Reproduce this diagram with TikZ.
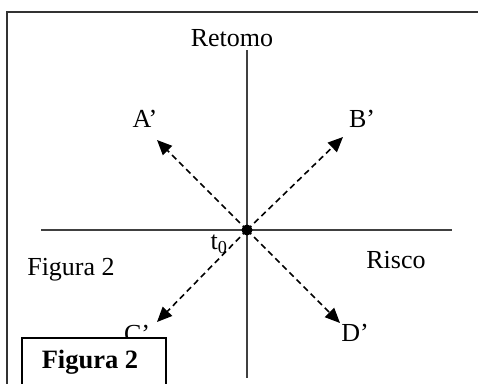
\documentclass[tikz,border=0pt]{standalone}
\usepackage{fontspec}
\setmainfont{Liberation Serif}
\usetikzlibrary{arrows.meta}
\begin{document}
\begin{tikzpicture}[x=1pt,y=-1pt,
  axisline/.style={draw=black!75,line width=1.4pt},
  diag/.style={draw=black,line width=1.6pt,dash pattern=on 6pt off 4pt,-{Triangle[length=15pt,width=13pt]}},
  lbl/.style={font=\fontsize{26}{30}\selectfont,inner sep=0pt}]
\useasboundingbox (0,0) rectangle (478,383);
\clip (0,0) rectangle (478,383);
\fill[white] (0,0) rectangle (478,383);
% outer frame
\draw[draw=black!80,line width=1.5pt] (7,400) -- (7,12) -- (490,12);
% axes
\coordinate (O) at (247,230);
\coordinate (vtop) at (247,50);
\coordinate (vbot) at (247,378);
\coordinate (hl) at (41,230);
\coordinate (hr) at (452,230);
\draw[axisline] (vtop) -- (vbot);
\draw[axisline] (hl) -- (hr);
% arrows
\coordinate (ta) at (157,140);
\coordinate (tb) at (343,137);
\coordinate (tc) at (157,322);
\coordinate (td) at (340,323);
\draw[diag] (O) -- (ta);
\draw[diag] (O) -- (tb);
\draw[diag] (O) -- (tc);
\draw[diag] (O) -- (td);
\fill[black] (O) circle (5.5pt);
% labels
\node[lbl] (retomo) at (232,38) {Retomo};
\node[lbl] (A) at (145,119) {A’};
\node[lbl] (B) at (362,119) {B’};
\node[lbl] (C) at (137,334) {C’};
\node[lbl] (D) at (355,333) {D’};
\node[lbl] (risco) at (396,260) {Risco};
\node[lbl] (fig) at (71,270) {Figura 2};
\node[lbl] (t0) at (219,244) {t$_{\mathrm{0}}$};
% box
\node[draw=black,line width=2pt,fill=white,minimum width=144pt,minimum height=60pt,anchor=north west,inner sep=0pt] (box) at (21,337) {};
\node[font=\fontsize{26.5}{30}\selectfont\bfseries,inner sep=0pt] (boxtxt) at (90,362) {Figura 2};
\end{tikzpicture}
\end{document}
